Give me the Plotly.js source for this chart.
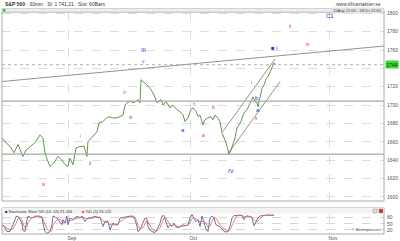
<!DOCTYPE html>
<html><head><meta charset="utf-8">
<script src="https://cdn.plot.ly/plotly-3.0.1.min.js"></script>
<style>html,body{margin:0;padding:0;background:#fff;}#chart{width:400px;height:241px;}</style>
</head><body><div id="chart"></div>
<script>
// x unit: trading days since the first bar (Sep 3 = 11, Oct 1 = 31, Nov 1 = 54)
const priceDay = [0.0,0.46,1.29,1.94,2.60,3.43,3.92,4.58,5.40,6.23,6.72,7.05,7.22,7.87,8.53,9.19,9.85,10.35,10.84,11.17,11.66,12.16,12.82,13.48,13.97,14.13,14.96,15.62,15.95,16.61,17.43,18.09,18.91,19.57,19.90,20.23,20.56,21.05,21.71,22.37,22.70,22.87,23.20,23.85,24.51,25.01,25.50,26.16,26.49,26.99,27.64,28.14,28.80,29.29,29.79,30.12,30.61,31.10,31.43,31.93,32.26,32.59,33.08,33.41,33.90,34.40,34.73,35.06,35.55,35.88,36.21,36.54,36.87,37.20,37.36,37.69,38.02,38.35,38.68,39.01,39.34,39.67,40.00,40.33,40.66,40.99,41.32,41.65,41.98,42.14,42.47,42.80,43.13,43.46,43.79,44.12,44.45,44.78,45.11];
const priceClose = [1664,1660,1655,1648,1657,1644,1651,1655,1659,1667.5,1664,1648,1644,1633,1637,1644,1640,1635,1633,1642,1635,1653,1655,1655,1644,1660,1666,1671,1680.6,1682,1687.5,1686,1686,1687.5,1689,1700,1702.5,1704,1702.5,1706,1702.5,1727.6,1726,1722,1717,1711,1702.5,1706,1700,1704,1697,1700,1695,1693,1689.5,1682,1686,1695,1697,1693,1687.5,1689,1678.5,1684,1686,1687.5,1684,1689,1686,1682,1669.7,1664,1659,1651,1646,1651,1657,1664,1675,1678.5,1682,1689,1693,1695,1700,1704,1709,1704,1702.5,1698.5,1710,1718,1722,1728,1731,1736,1742,1746,1744];

const stochDay = [0.0,0.30,0.79,1.28,1.78,2.27,2.60,2.93,3.26,3.43,3.76,4.09,4.25,4.91,5.40,6.23,6.56,6.72,7.05,7.38,7.87,8.20,8.37,9.03,9.52,9.85,10.02,10.35,10.67,10.84,11.17,11.66,12.32,12.82,13.15,13.64,14.13,14.79,15.29,15.78,16.11,16.61,16.94,17.43,17.76,18.25,18.58,19.08,19.41,20.07,20.72,21.05,21.55,21.88,22.21,22.37,22.70,23.20,23.53,23.85,24.02,24.35,24.68,25.17,25.50,26.00,26.32,26.65,26.98,27.31,27.64,27.97,28.30,28.63,28.96,29.29,29.79,30.28,30.61,30.94,31.27,31.60,31.93,32.26,32.59,32.92,33.24,33.57,33.90,34.23,34.56,34.89,35.22,35.55,35.88,36.21,36.54,36.87,37.20,37.53,37.86,38.19,38.52,38.84,39.17,39.50,39.83,40.16,40.49,40.82,41.15,41.48,41.81,42.14,42.47,42.80,43.13,43.46,43.79,44.12,44.45,44.78];
const stochK = [40,40,12,12,45,85,87,70,53,20,12,70,87,78,87,87,78,53,12,3,12,45,87,78,60,45,70,53,87,45,78,70,87,80,87,62,78,80,87,80,80,37,62,62,20,53,45,45,78,82,85,87,87,70,37,12,20,53,78,75,37,20,12,7,20,53,87,90,60,30,45,37,53,35,30,37,45,40,45,78,95,75,60,70,37,87,60,25,12,78,88,80,45,40,35,25,12,10,12,37,78,90,92,91,92,90,70,87,88,85,80,40,60,78,88,90,92,91,93,91,92,91.2];
const stochD = [45,40,30,20,25,50,75,80,70,50,30,35,55,80,82,85,85,72,50,25,10,20,45,70,72,60,55,60,65,62,65,72,78,80,83,78,75,77,82,83,82,65,58,55,45,45,45,48,60,75,83,85,86,80,62,40,25,30,50,68,60,45,25,14,15,30,55,78,78,60,45,40,45,42,36,35,40,42,43,55,75,80,75,68,58,62,60,55,32,38,60,80,78,60,45,35,27,18,12,20,42,68,85,90,92,91,85,82,82,85,82,70,60,62,75,85,90,91,92,93,93,93.1];

const trendDay = [0, 62.9], trendVal = [1725.7, 1764.4];
const chanUpDay = [36.33, 44.94], chanUpVal = [1670.9, 1750.2];
const chanLoDay = [37.25, 45.77], chanLoVal = [1647.4, 1725.5];
const levelVals = [1704.4, 1646.6];
const lastPrice = 1744;

const monthTicks = [11, 31, 54], monthLabels = ['Sep', 'Oct', 'Nov'];
const priceTicks = [1600,1620,1640,1660,1680,1700,1720,1740,1760,1780,1800];
const priceTickText = ['1600','1620','1640','1660','1680','1700','1720','','1760','1780','1800'];
const stochTicks = [20, 50, 80];

const waveText = ['III','v','iii','iv','i','ii','iv','a','b','a','b','i','ii','b','a','IV','\u25A0 i','ii','iv','C1'];
const waveDay  = [23.2,23.2,20.23,21.2,12.98,14.46,6.97,29.79,31.6,33.24,34.73,40.99,41.76,41.93,42.14,37.69,44.94,47.41,50.38,54.0];
const waveVal  = [1760,1748,1714.5,1687,1666,1637,1613.6,1672.7,1700.8,1667,1698,1725,1686,1707.7,1694.6,1628.4,1761.9,1786.2,1766.6,1797];
const waveKind = ['B','P','L','P','L','P','R','B','L','R','R','R','R','B','B','B','B','R','R','B'];
const kindColor = {B:'#3333cc', P:'#7a4a9a', L:'#9a8acc', R:'#dd3333'};

const F = 'Liberation Sans, Arial, sans-serif';
const X0 = 2, X1 = 384, Y0 = 12, Y1 = 234; // plot box in px
const px = v => (v - X0) / (X1 - X0);
const py = v => (Y1 - v) / (Y1 - Y0);

const traces = [
  {x: trendDay, y: trendVal, mode:'lines', line:{color:'#777', width:0.8}, xaxis:'x', yaxis:'y', hoverinfo:'skip'},
  {x: chanUpDay, y: chanUpVal, mode:'lines', line:{color:'#777', width:0.8}, xaxis:'x', yaxis:'y', hoverinfo:'skip'},
  {x: chanLoDay, y: chanLoVal, mode:'lines', line:{color:'#777', width:0.8}, xaxis:'x', yaxis:'y', hoverinfo:'skip'},
  {x: priceDay, y: priceClose, mode:'lines', line:{color:'#4f8a3e', width:0.9}, xaxis:'x', yaxis:'y'},
  {x: stochDay, y: stochK, mode:'lines', line:{color:'#4a4a99', width:0.8}, xaxis:'x', yaxis:'y2'},
  {x: stochDay, y: stochD, mode:'lines', line:{color:'#dd6a60', width:0.8}, xaxis:'x', yaxis:'y2'}
];

const shapes = [];
levelVals.forEach(v => shapes.push({type:'line', xref:'paper', x0:0, x1:1, yref:'y', y0:v, y1:v, line:{color:'#aaa', width:1.2}}));
shapes.push({type:'line', xref:'paper', x0:0, x1:1, yref:'y', y0:lastPrice, y1:lastPrice, line:{color:'#999', width:0.8, dash:'dot'}});
shapes.push({type:'rect', xref:'paper', yref:'paper', x0:0, x1:1, y0:py(201), y1:1, line:{color:'#aaa', width:1}});
shapes.push({type:'rect', xref:'paper', yref:'paper', x0:0, x1:1, y0:1, y1:py(8.5), fillcolor:'#eeeeee', line:{color:'#bbb', width:0.6}});
shapes.push({type:'rect', xref:'paper', yref:'paper', x0:px(2.8), x1:px(5.5), y0:py(11.5), y1:py(9), fillcolor:'#22cc22', line:{width:0}});
shapes.push({type:'rect', xref:'paper', yref:'paper', x0:0, x1:1, y0:0, y1:py(208), line:{color:'#aaa', width:1}});
shapes.push({type:'rect', xref:'paper', yref:'paper', x0:0, x1:1, y0:py(213.5), y1:py(208), fillcolor:'#f2f2f2', line:{width:0}});
shapes.push({type:'rect', xref:'paper', yref:'paper', x0:px(373), x1:px(377), y0:py(213), y1:py(209), fillcolor:'#ddd', line:{color:'#999', width:0.5}});
shapes.push({type:'rect', xref:'paper', yref:'paper', x0:px(379), x1:px(383), y0:py(213), y1:py(209), fillcolor:'#cc3333', line:{color:'#999', width:0.5}});

const ann = [];
for (let i = 0; i < waveText.length; i++) {
  ann.push({x: waveDay[i], y: waveVal[i], xref:'x', yref:'y', text: waveText[i], showarrow:false,
    font:{family:F, size: (waveKind[i]==='B' ? 6 : 5), color: kindColor[waveKind[i]]}});
}
ann.push({xref:'paper', yref:'paper', x:px(3), y:py(4), xanchor:'left', yanchor:'middle', showarrow:false,
  text:'<b>S&P 500</b> - 30min   Sl: 1 741,21   Sist: 60Bars', font:{family:F, size:5, color:'#333'}});
ann.push({xref:'paper', yref:'paper', x:px(383), y:py(4), xanchor:'right', yanchor:'middle', showarrow:false,
  text:'www.tillvaxtaktier.se', font:{family:F, size:5, color:'#444'}});
ann.push({xref:'paper', yref:'paper', x:px(383), y:py(10.3), xanchor:'right', yanchor:'middle', showarrow:false,
  text:'15Aug 22:00 - 18Oct 22:00', font:{family:F, size:4, color:'#444'}, bgcolor:'#e4e4e4', borderpad:0});
ann.push({xref:'paper', yref:'y', x:1, y:lastPrice, xanchor:'left', yanchor:'middle', showarrow:false, xshift:1,
  text:'1744', font:{family:F, size:5, color:'#003300'}, bgcolor:'#33dd33', borderpad:0.5});
ann.push({xref:'paper', yref:'paper', x:px(3), y:py(211), xanchor:'left', yanchor:'middle', showarrow:false,
  text:'<span style="color:#1a1a60">\u25A0</span> Stochastic Slow %K (14, 03) 91,164', font:{family:F, size:4, color:'#333'}});
ann.push({xref:'paper', yref:'paper', x:px(80), y:py(211), xanchor:'left', yanchor:'middle', showarrow:false,
  text:'<span style="color:#e8501e">\u25A0</span> %D (3) 93,122', font:{family:F, size:4, color:'#333'}});
ann.push({xref:'paper', yref:'paper', x:px(383), y:py(229.5), xanchor:'right', yanchor:'middle', showarrow:false,
  text:'\u00A9 Aktiespararna', font:{family:F, size:4, color:'#555'}});

const layout = {
  width:400, height:241, margin:{l:X0, r:400-X1, t:Y0, b:241-Y1},
  paper_bgcolor:'#fff', plot_bgcolor:'#fff', showlegend:false,
  xaxis:{range:[-0.03, 62.9], anchor:'y2', tickvals:monthTicks, ticktext:monthLabels, ticks:'', ticklen:0,
    showgrid:true, gridcolor:'#d4d4d4', griddash:'dash', gridwidth:0.8, zeroline:false, showline:false,
    tickfont:{family:F, size:5, color:'#555'}, ticklabelshift:3, ticklabelstandoff:0},
  yaxis:{domain:[py(201), 1], range:[1595.4, 1801.5], side:'right', tickvals:priceTicks, ticktext:priceTickText,
    showgrid:true, gridcolor:'#d4d4d4', griddash:'dash', gridwidth:0.8, zeroline:false, showline:false, ticks:'',
    tickfont:{family:F, size:5, color:'#555'}, ticklabelstandoff:2},
  yaxis2:{domain:[0, py(213.5)], range:[0, 100], side:'right', tickvals:stochTicks,
    showgrid:true, gridcolor:'#cccccc', griddash:'dash', gridwidth:0.8, zeroline:false, showline:false, ticks:'',
    tickfont:{family:F, size:5, color:'#555'}, ticklabelstandoff:2},
  shapes:shapes, annotations:ann
};
Plotly.newPlot('chart', traces, layout, {staticPlot:true, displayModeBar:false});
</script></body></html>
